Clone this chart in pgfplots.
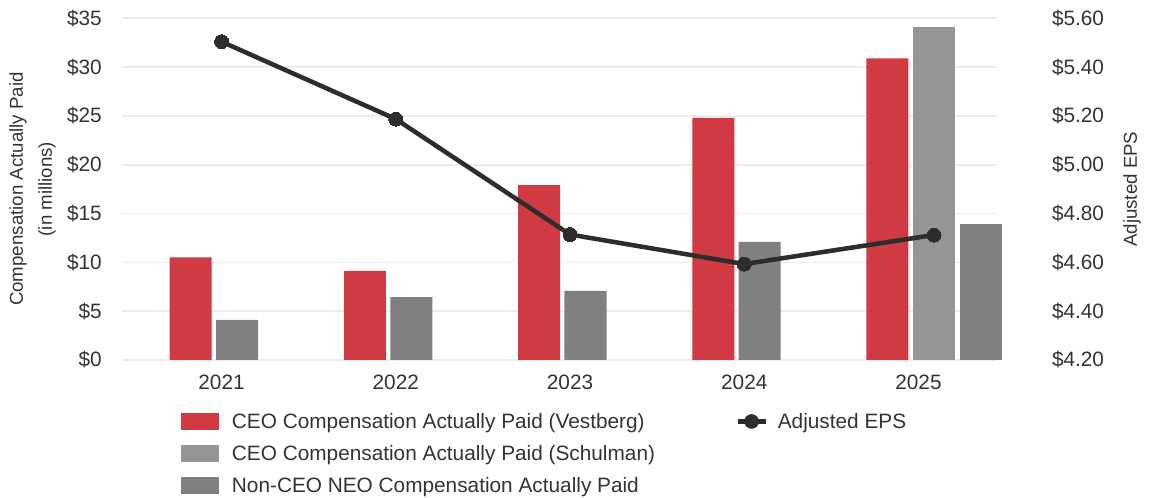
\documentclass[border=0pt]{standalone}
\usepackage{pgfplots}
\pgfplotsset{compat=1.18}
\usepackage{fontspec}
\setmainfont{Liberation Sans}
\definecolor{cRed}{RGB}{208,58,66}
\definecolor{cLight}{RGB}{149,149,149}
\definecolor{cDark}{RGB}{128,128,128}
\definecolor{cLine}{RGB}{45,45,45}
\definecolor{cGrid}{RGB}{236,236,236}
\definecolor{cText}{RGB}{51,51,51}

\begin{document}
\begin{tikzpicture}
\pgfplotsset{
 base/.style={scale only axis, width=656.5pt, height=256.3pt, xmin=-0.573, xmax=4.451,
   axis line style={draw=none}, major tick length=0pt, tick style={draw=none},
   /pgf/number format/assume math mode=true,
   tick label style={font=\fontsize{15.6}{18}\selectfont, text=cText},
   label style={font=\fontsize{14}{21.75}\selectfont, text=cText}, clip=false},
}
\begin{axis}[base, ymin=0, ymax=35, ytick={0,5,10,15,20,25,30,35},
  yticklabel={\$\pgfmathprintnumber{\tick}},
  ymajorgrids, grid style={cGrid, line width=1.2pt},
  xtick={0,1,2,3,4}, xticklabels={2021,2022,2023,2024,2025},
  xticklabel style={anchor=north, inner sep=0pt, yshift=-11.25pt},
  yticklabel style={anchor=east, inner sep=0pt, xshift=-14.8pt},
  ylabel={Compensation Actually Paid\\(in millions)},
  ylabel style={align=center, at={(axis description cs:-0.1019,0.5)}, anchor=center}]
\addplot[ybar, bar width=31.5pt, bar shift=-23.25pt, fill=cRed, draw=none] coordinates {(0,10.52) (1,9.12) (2,17.9) (3,24.8) (4,30.9)};
\addplot[ybar, bar width=31.5pt, bar shift=11.6pt, fill=cDark, draw=none] coordinates {(0,4.10) (1,6.45) (2,7.07) (3,12.09)};
\addplot[ybar, bar width=31.5pt, bar shift=11.6pt, fill=cLight, draw=none] coordinates {(4,34.08)};
\addplot[ybar, bar width=31.5pt, bar shift=46.9pt, fill=cDark, draw=none] coordinates {(4,13.93)};
\end{axis}
\begin{axis}[base, ymin=4.2, ymax=5.6, ytick={4.2,4.4,4.6,4.8,5.0,5.2,5.4,5.6},
  yticklabel={\$\pgfmathprintnumber[fixed,fixed zerofill,precision=2]{\tick}},
  axis y line*=right, axis x line=none, xtick=\empty,
  yticklabel style={anchor=west, inner sep=0pt, xshift=41pt},
  ylabel={Adjusted EPS},
  ylabel style={at={(axis description cs:1.1542,0.5)}, anchor=center},
  legend columns=2,
  legend cell align=left,
  legend style={draw=none, fill=none, inner sep=0pt, outer sep=0pt,
    at={(axis description cs:0.0678,-0.1561)}, anchor=north west,
    font=\fontsize{15.6}{18}\selectfont, text=cText,
    nodes={inner sep=0pt, text height=11.2pt, text depth=0pt},
    row sep=11.8pt,
    /tikz/column 1/.style={column sep=10pt},
    /tikz/column 2/.style={column sep=60.2pt},
    /tikz/column 3/.style={column sep=7.5pt}}]
\addlegendimage{legend image code/.code={\fill[cRed] (0pt,-5.9pt) rectangle (27.75pt,5.9pt);}}
\addlegendentry{CEO Compensation Actually Paid (Vestberg)}
\addlegendimage{legend image code/.code={\draw[cLine, line width=3.4pt] (0pt,0pt) -- (21pt,0pt); \fill[cLine] (10.5pt,0pt) circle (5.25pt);}}
\addlegendentry{Adjusted EPS}
\addlegendimage{legend image code/.code={\fill[cLight] (0pt,-5.9pt) rectangle (27.75pt,5.9pt);}}
\addlegendentry{CEO Compensation Actually Paid (Schulman)}
\addlegendimage{empty legend}
\addlegendentry{}
\addlegendimage{legend image code/.code={\fill[cDark] (0pt,-5.9pt) rectangle (27.75pt,5.9pt);}}
\addlegendentry{Non-CEO NEO Compensation Actually Paid}
\addplot[cLine, line width=3.4pt, line join=round, mark=*, mark size=5.25pt, mark options={fill=cLine, draw=cLine, line width=0pt}, forget plot] coordinates {(0,5.504) (1,5.187) (2,4.714) (3,4.593) (4.089,4.712)};
\end{axis}
\pgfresetboundingbox
\path[use as bounding box] (-91.3pt,-103.5pt) rectangle ++(861.75pt,373.5pt);
\end{tikzpicture}
\end{document}
